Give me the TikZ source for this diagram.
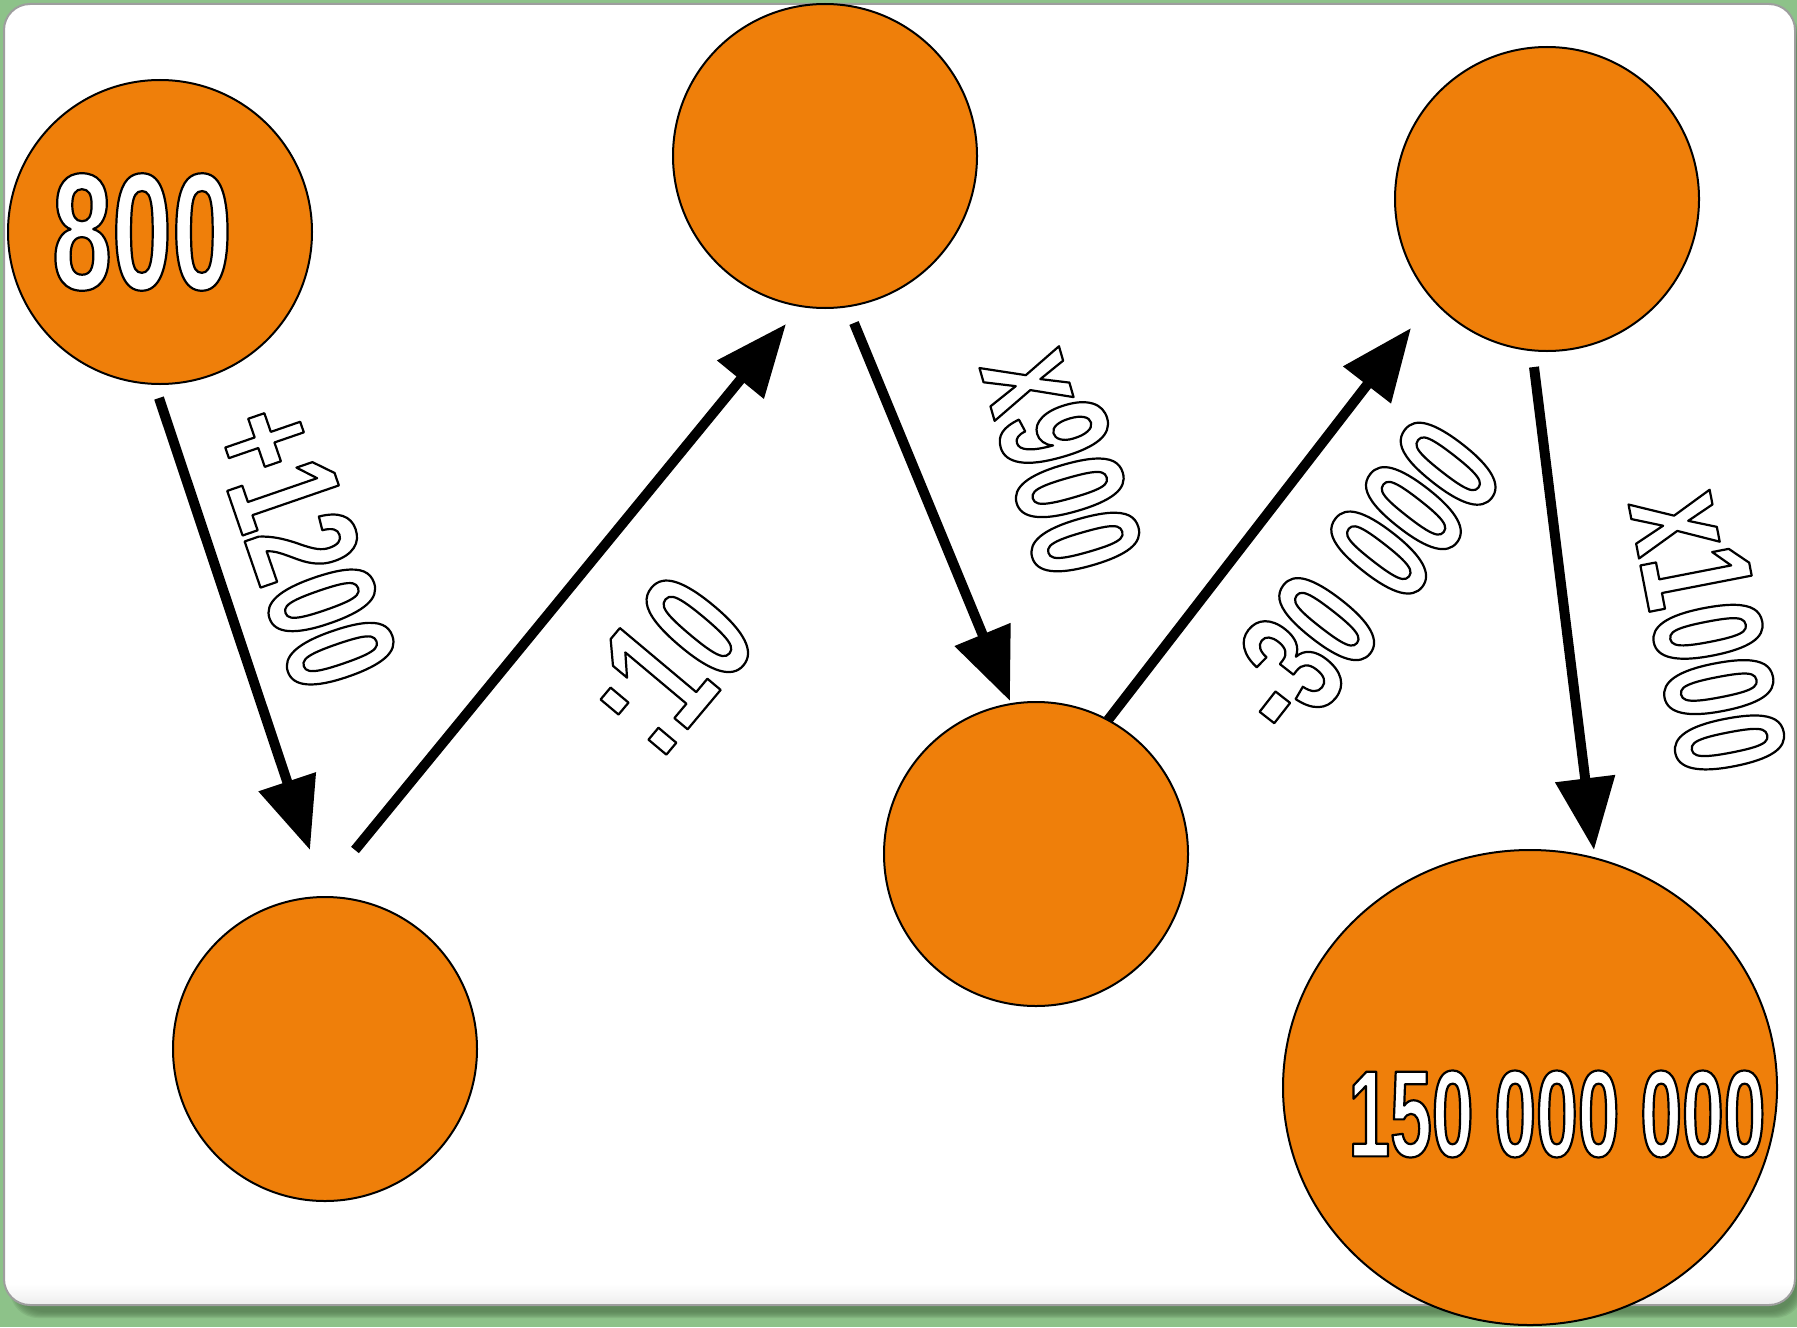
\documentclass[tikz,border=0pt]{standalone}
\usepackage{fontspec}
\usetikzlibrary{arrows.meta}
\newfontfamily\numfont[FakeStretch=0.65]{Liberation Sans Bold}
\newfontfamily\bignumfont[FakeStretch=0.61]{Liberation Sans Bold}
\newcommand\outlined[1]{\special{pdf:literal direct 2 Tr 1.1 w 1 j 0 0 0 RG}#1\special{pdf:literal direct 0 Tr}}
\definecolor{bggreen}{RGB}{141,194,137}
\definecolor{shadowgreen}{RGB}{80,118,76}
\definecolor{ballorange}{RGB}{239,127,10}
\definecolor{framegray}{RGB}{158,158,158}
\begin{document}
\begin{tikzpicture}[x=0.5pt,y=-0.5pt,
  ball/.style={circle, draw=black, line width=1pt, fill=ballorange, minimum size=152pt, inner sep=0pt},
  flow/.style={line width=5pt, -{Triangle[length=36pt,width=29pt]}},
  outl/.style={inner sep=0pt, text=white},
  lab/.style={outl, font=\numfont\fontsize{78}{80}\selectfont},
]
\useasboundingbox (0,0) rectangle (1797,1327);
% background
\fill[bggreen] (0,0) rectangle (1797,1327);
% soft shadow
\foreach \k in {0,1,2,3,4,5,6}{
  \fill[shadowgreen, opacity=0.16, rounded corners=14pt]
    (10+\k,14+\k) rectangle (1803-\k,1318-\k);
}
% white panel
\fill[white, rounded corners=13pt] (4,4) rectangle (1795,1305);
\begin{scope}
  \clip[rounded corners=13pt] (4,4) rectangle (1795,1305);
  \shade[top color=white, bottom color=black!7] (4,1284) rectangle (1795,1305);
\end{scope}
\draw[framegray, line width=1pt, rounded corners=13pt] (4,4) rectangle (1795,1305);

% balls
\node[ball] (c1) at (160,232) {};
\node[ball] (c2) at (325,1049) {};
\node[ball] (c3) at (825,156) {};
\node[ball] (c4) at (1036,854) {};
\node[ball] (c5) at (1547,199) {};
\draw[black, line width=1pt, fill=ballorange] (1530,1087.5) ellipse [x radius=247, y radius=237.5];
\coordinate (c6) at (1530,1087.5);

% numbers in balls
\node[outl, font=\numfont\fontsize{83}{85}\selectfont] (t800) at (142,232) {\outlined{800}};
\node[outl, font=\bignumfont\fontsize{61.5}{63}\selectfont] (tbig) at (1557,1114) {\outlined{150 000 000}};

% arrow end points
\coordinate (a1s) at (159,398);   \coordinate (a1e) at (310,850);
\coordinate (a2s) at (355,850);   \coordinate (a2e) at (786,324);
\coordinate (a3s) at (854,323);   \coordinate (a3e) at (1010,701);
\coordinate (a4s) at (1108,720);  \coordinate (a4e) at (1411,328);
\coordinate (a5s) at (1534,367);  \coordinate (a5e) at (1594,850);

\draw[flow] (a1s) -- (a1e);
\draw[flow] (a2s) -- (a2e);
\draw[flow] (a3s) -- (a3e);
\draw[flow] (a4s) -- (a4e);
\draw[flow] (a5s) -- (a5e);

% operation labels
\node[lab, rotate=-71] (l1) at (303,546) {\outlined{+1200}};
\node[lab, rotate=50, font=\numfont\fontsize{85}{87}\selectfont] (l2) at (666,664) {\outlined{:10}};
\node[lab, rotate=-74] (l3) at (1062,461) {\outlined{x900}};
\node[lab, rotate=52] (l4) at (1360,577) {\outlined{-30 000}};
\node[lab, rotate=-79] (l5) at (1708,632) {\outlined{x1000}};
\end{tikzpicture}
\end{document}
